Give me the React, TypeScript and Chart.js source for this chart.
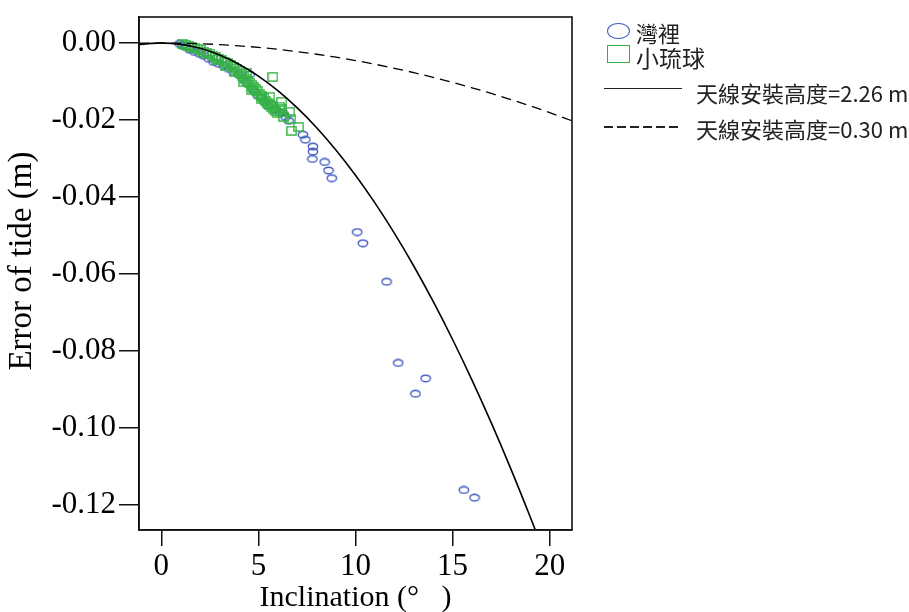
import React, { useEffect, useRef } from 'react';
import { Chart, registerables } from 'chart.js';

Chart.register(...registerables);

// 灣裡 observations (inclination in degrees, error in m)
const wanliX = [0.94, 1.10, 1.25, 1.46, 1.71, 1.97, 2.18, 2.44, 2.69, 2.95, 3.21, 3.47, 3.72, 3.98, 4.19, 4.39, 4.55, 4.70, 4.80, 4.96, 5.16, 5.32, 5.47, 5.68, 5.89, 6.09, 6.25, 6.40, 6.56,
  7.29, 7.42, 7.81, 7.81, 7.78, 8.41, 8.61, 8.78, 10.09, 10.38, 11.60, 12.20, 13.61, 13.09, 15.58, 16.13];
const wanliY = [-0.0002, -0.0007, -0.0010, -0.0017, -0.0023, -0.0028, -0.0033, -0.0041, -0.0049, -0.0054, -0.0059, -0.0067, -0.0075, -0.0082, -0.0093, -0.0103, -0.0082, -0.0121, -0.0127, -0.0137, -0.0142, -0.0153, -0.0163, -0.0158, -0.0173, -0.0181, -0.0181, -0.0192, -0.0202,
  -0.0238, -0.0251, -0.0269, -0.0282, -0.0301, -0.0309, -0.0331, -0.0351, -0.0491, -0.0520, -0.0620, -0.0831, -0.0871, -0.0911, -0.1161, -0.1181];

// 小琉球 observations
const liuqiuX = [1.10, 1.25, 1.41, 1.56, 1.71, 1.87, 2.02, 2.18, 2.33, 2.49, 2.64, 2.80, 2.95, 3.11, 3.26, 3.41, 3.57, 3.72, 3.88, 4.03, 4.13, 4.24, 4.34, 4.44, 4.55, 4.65, 4.75, 4.86, 4.96, 5.06, 5.16, 5.27, 5.37, 5.47, 5.58, 5.68, 5.78, 5.89, 5.99, 6.09, 6.20, 6.20, 6.30, 6.61, 6.66, 6.71, 7.07, 5.74, 4.24, 4.39, 3.31, 2.85, 5.16, 5.58, 4.65, 3.78];
const liuqiuY = [-0.0002, -0.0004, -0.0007, -0.0010, -0.0012, -0.0015, -0.0017, -0.0023, -0.0025, -0.0028, -0.0033, -0.0036, -0.0041, -0.0043, -0.0049, -0.0051, -0.0056, -0.0062, -0.0067, -0.0072, -0.0080, -0.0085, -0.0093, -0.0098, -0.0103, -0.0108, -0.0114, -0.0119, -0.0124, -0.0132, -0.0137, -0.0142, -0.0150, -0.0155, -0.0160, -0.0166, -0.0171, -0.0176, -0.0181, -0.0166, -0.0153, -0.0171, -0.0192, -0.0179, -0.0197, -0.0228, -0.0218, -0.0088, -0.0101, -0.0077, -0.0059, -0.0043, -0.0145, -0.0140, -0.0121, -0.0075];

// 天線安裝高度=2.26 m curve
const curveHighX = [-1.15, -0.5, 0, 0.5, 1, 1.5, 2, 3, 4, 5, 6, 7, 8, 9, 10, 11, 12, 13, 14, 15, 16, 17, 18, 19, 19.35];
const curveHighY = [-0.00046, -0.00009, 0, -0.00009, -0.00034, -0.00077, -0.00138, -0.00310, -0.00551, -0.00860, -0.01238, -0.01685, -0.02199, -0.02783, -0.03433, -0.04152, -0.04939, -0.05792, -0.06713, -0.07701, -0.08755, -0.09875, -0.11061, -0.12313, -0.12767];

// 天線安裝高度=0.30 m curve
const curveLowX = [-1.15, 0, 1, 2, 3, 4, 5, 6, 7, 8, 9, 10, 11, 12, 13, 14, 15, 16, 17, 18, 19, 20, 21, 21.15];
const curveLowY = [-0.00006, 0, -0.00005, -0.00018, -0.00041, -0.00073, -0.00114, -0.00164, -0.00224, -0.00292, -0.00369, -0.00456, -0.00551, -0.00656, -0.00769, -0.00891, -0.01022, -0.01162, -0.01311, -0.01468, -0.01634, -0.01809, -0.01993, -0.02021];

const xTicks = [0, 5, 10, 15, 20];
const yTicks = [0, -0.02, -0.04, -0.06, -0.08, -0.10, -0.12];

const legendLabels = ['灣裡', '小琉球', '天線安裝高度=2.26 m', '天線安裝高度=0.30 m'];

const BLUE = '#4059bf';
const GREEN = '#36b244';
const SERIF = '"Liberation Serif", "Times New Roman", serif';
const SANS = '"Noto Sans CJK TC", "Noto Sans", sans-serif';

function makeEllipse(): HTMLCanvasElement {
  const c = document.createElement('canvas');
  c.width = 12;
  c.height = 9;
  const ctx = c.getContext('2d')!;
  ctx.strokeStyle = BLUE;
  ctx.lineWidth = 1.4;
  ctx.beginPath();
  ctx.ellipse(6, 4.5, 4.7, 3.3, 0, 0, Math.PI * 2);
  ctx.stroke();
  return c;
}

function makeSquare(): HTMLCanvasElement {
  const c = document.createElement('canvas');
  c.width = 11;
  c.height = 10;
  const ctx = c.getContext('2d')!;
  ctx.strokeStyle = GREEN;
  ctx.lineWidth = 1.4;
  ctx.strokeRect(0.9, 0.9, 9.2, 8.2);
  return c;
}

const framePlugin = {
  id: 'frame',
  afterDatasetsDraw(chart: any) {
    const { ctx, chartArea } = chart;
    ctx.save();
    ctx.strokeStyle = '#111';
    ctx.lineWidth = 1.6;
    ctx.strokeRect(chartArea.left, chartArea.top, chartArea.right - chartArea.left, chartArea.bottom - chartArea.top);
    ctx.restore();
  },
};

export default function App() {
  const ref = useRef<HTMLCanvasElement | null>(null);

  useEffect(() => {
    if (!ref.current) return;
    const ellipse = makeEllipse();
    const square = makeSquare();
    const toPts = (xs: number[], ys: number[]) => xs.map((x, i) => ({ x, y: ys[i] }));

    const chart = new Chart(ref.current, {
      type: 'scatter',
      data: {
        datasets: [
          {
            label: legendLabels[2],
            data: toPts(curveHighX, curveHighY),
            showLine: true,
            borderColor: '#000',
            borderWidth: 1.6,
            pointRadius: 0,
            cubicInterpolationMode: 'monotone',
            order: 0,
          },
          {
            label: legendLabels[3],
            data: toPts(curveLowX, curveLowY),
            showLine: true,
            borderColor: '#000',
            borderWidth: 1.3,
            borderDash: [10, 6],
            pointRadius: 0,
            cubicInterpolationMode: 'monotone',
            order: 1,
          },
          {
            label: legendLabels[1],
            data: toPts(liuqiuX, liuqiuY),
            pointStyle: square as any,
            pointRadius: 5,
            order: 2,
          },
          {
            label: legendLabels[0],
            data: toPts(wanliX, wanliY),
            pointStyle: ellipse as any,
            pointRadius: 5,
            order: 3,
          },
        ] as any,
      },
      options: {
        responsive: false,
        animation: false,
        devicePixelRatio: 1,
        layout: { padding: { left: 0, top: 17, right: 337, bottom: 0 } },
        plugins: { legend: { display: false }, tooltip: { enabled: false } },
        scales: {
          x: {
            type: 'linear',
            min: -1.15,
            max: 21.15,
            afterBuildTicks: (s: any) => { s.ticks = xTicks.map((v) => ({ value: v })); },
            afterFit: (s: any) => { s.height = 82; s.paddingLeft = 0; s.paddingRight = 0; },
            ticks: {
              font: { family: SERIF, size: 31 },
              color: '#000',
              padding: 2,
              callback: (v: any) => String(v),
            },
            grid: { display: true, drawOnChartArea: false, drawTicks: true, tickLength: 16, color: '#111', lineWidth: 1.5 },
            border: { display: true, color: '#111', width: 1.6 },
            title: {
              display: true,
              text: 'Inclination (°   )',
              font: { family: SERIF, size: 30, lineHeight: 0.9 },
              color: '#000',
              padding: { top: 0, bottom: 0 },
            },
          },
          y: {
            type: 'linear',
            min: -0.1265,
            max: 0.00676,
            afterBuildTicks: (s: any) => { s.ticks = yTicks.map((v) => ({ value: v })); },
            afterFit: (s: any) => { s.width = 139; s.paddingTop = 0; s.paddingBottom = 0; },
            ticks: {
              font: { family: SERIF, size: 31 },
              color: '#000',
              padding: 3,
              callback: (v: any) => Number(v).toFixed(2).replace('-0.00', '0.00'),
            },
            grid: { display: true, drawOnChartArea: false, drawTicks: true, tickLength: 20, color: '#111', lineWidth: 1.5 },
            border: { display: true, color: '#111', width: 1.6 },
            title: {
              display: true,
              text: '   Error of tide (m)',
              font: { family: SERIF, size: 33, lineHeight: 1 },
              color: '#000',
              padding: { top: 6, bottom: 0 },
            },
          },
        },
      },
      plugins: [framePlugin],
    });
    return () => chart.destroy();
  }, []);

  const textStyle: React.CSSProperties = {
    position: 'absolute',
    fontFamily: SANS,
    fontSize: 22,
    lineHeight: '22px',
    color: '#222',
    whiteSpace: 'nowrap',
  };

  return (
    <div style={{ position: 'absolute', left: 0, top: 0, width: 909, height: 612, background: '#fff' }}>
      <canvas ref={ref} width={909} height={612} style={{ display: 'block' }} />
      <div style={{ position: 'absolute', left: 607, top: 23, width: 23, height: 16, border: `1.5px solid ${BLUE}`, borderRadius: '50%', boxSizing: 'border-box' }} />
      <div style={{ ...textStyle, left: 636, top: 21 }}>{legendLabels[0]}</div>
      <div style={{ position: 'absolute', left: 607, top: 45, width: 23, height: 18, border: `1.5px solid ${GREEN}`, boxSizing: 'border-box' }} />
      <div style={{ ...textStyle, left: 636, top: 46, fontSize: 23 }}>{legendLabels[1]}</div>
      <div style={{ position: 'absolute', left: 604, top: 88, width: 78, height: 0, borderTop: '1.5px solid #222' }} />
      <div style={{ ...textStyle, left: 696, top: 81 }}>{legendLabels[2]}</div>
      <div style={{ position: 'absolute', left: 604, top: 126, width: 78, height: 1.5, background: 'repeating-linear-gradient(to right, #222 0px, #222 9px, transparent 9px, transparent 13px)' }} />
      <div style={{ ...textStyle, left: 696, top: 117 }}>{legendLabels[3]}</div>
    </div>
  );
}
